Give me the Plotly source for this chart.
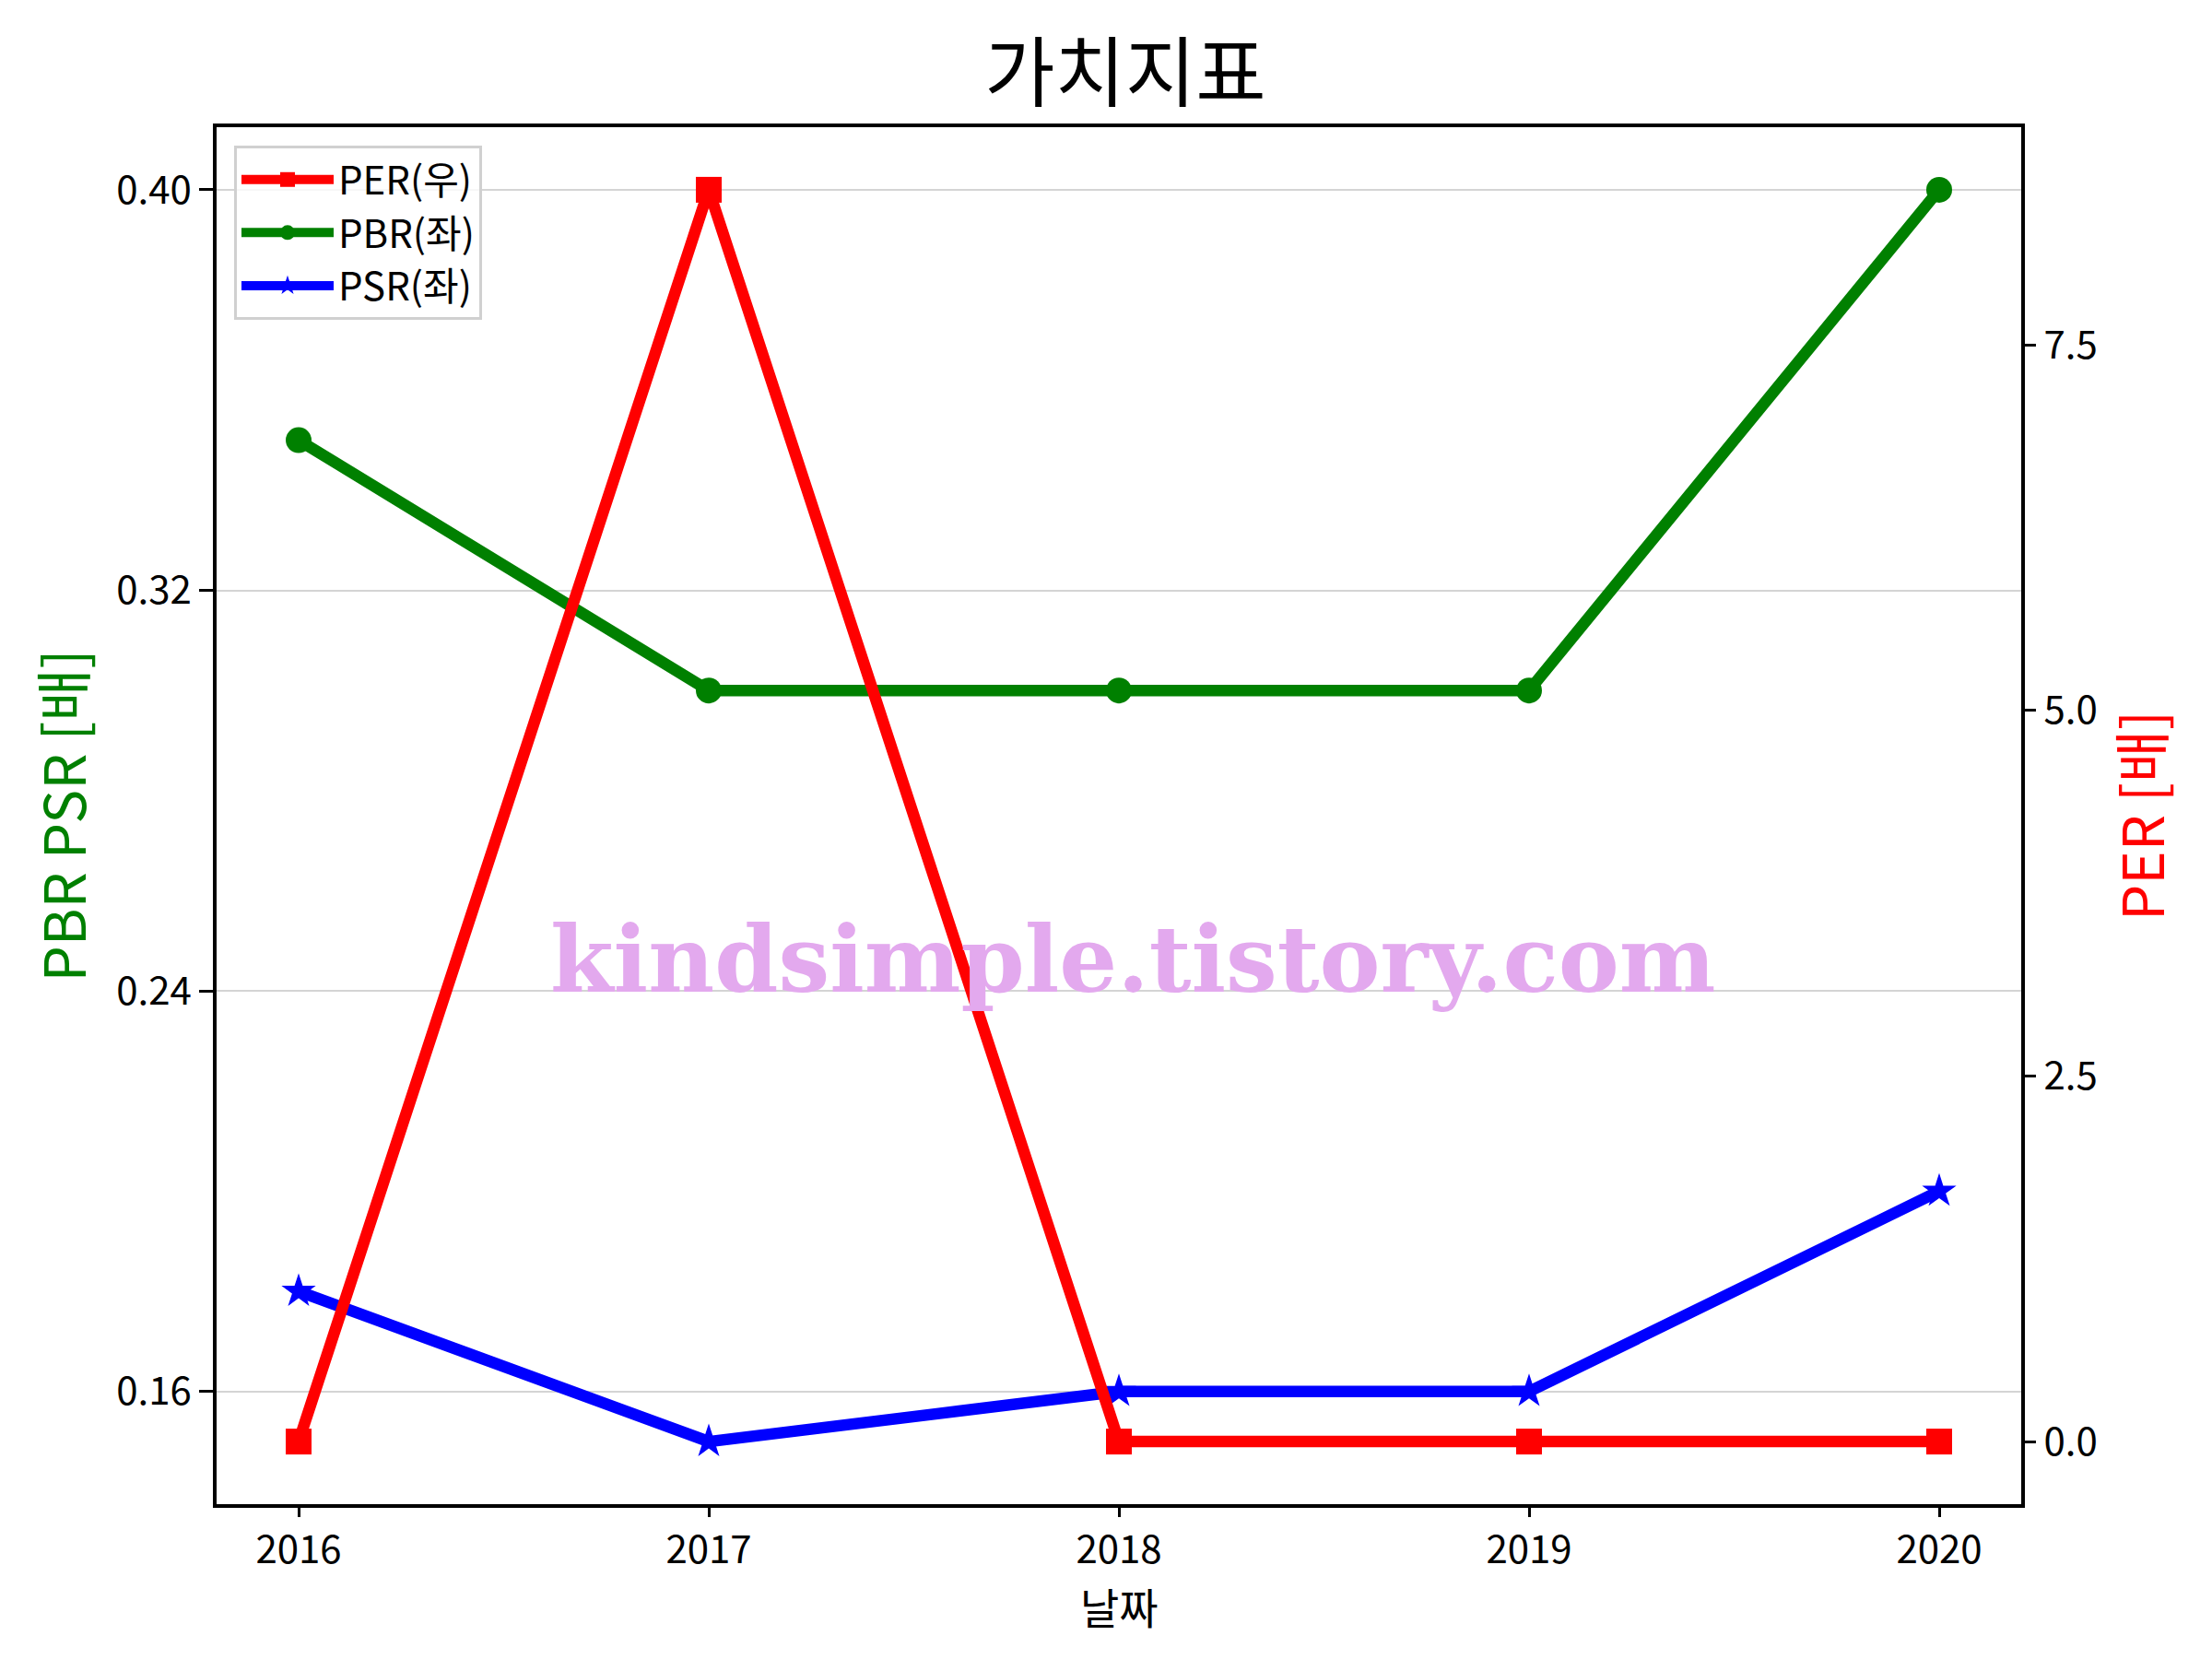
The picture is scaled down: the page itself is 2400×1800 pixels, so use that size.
import plotly.graph_objects as go

years = [2016, 2017, 2018, 2019, 2020]
per = [0.0, 8.56, 0.0, 0.0, 0.0]
pbr = [0.35, 0.30, 0.30, 0.30, 0.40]
psr = [0.18, 0.15, 0.16, 0.16, 0.20]

left_ticks = [0.16, 0.24, 0.32, 0.40]
right_ticks = [0.0, 2.5, 5.0, 7.5]

title_text = "가치지표"
xlabel = "날짜"
ylabel_left = "PBR PSR [배]"
ylabel_right = "PER [배]"
watermark = "kindsimple.tistory.com"

FONT = "Noto Sans CJK KR"
LW = 12.5

fig = go.Figure()
fig.add_trace(go.Scatter(x=years, y=pbr, name="PBR(좌)", mode="lines+markers",
                         line=dict(color="green", width=LW),
                         marker=dict(symbol="circle", size=28, color="green"),
                         legendrank=2))
fig.add_trace(go.Scatter(x=years, y=psr, name="PSR(좌)", mode="lines+markers",
                         line=dict(color="blue", width=LW),
                         marker=dict(symbol="star", size=28, color="blue"),
                         legendrank=3))
fig.add_trace(go.Scatter(x=years, y=per, name="PER(우)", mode="lines+markers",
                         line=dict(color="red", width=LW),
                         marker=dict(symbol="square", size=28, color="red"),
                         yaxis="y2", legendrank=1))

fig.add_annotation(text=watermark, xref="paper", yref="paper",
                   x=(1228 - 233) / 1959, y=(1632 - 1040) / 1496,
                   xanchor="center", yanchor="middle", showarrow=False,
                   font=dict(family="DejaVu Serif", size=99, color="#e3a9ee", weight="bold"))

# x-axis label placed just below the tick labels
fig.add_annotation(text=xlabel, xref="paper", yref="paper",
                   x=0.5, y=(1632 - 1742) / 1496, xanchor="center", yanchor="middle",
                   showarrow=False, font=dict(family=FONT, size=46, color="black"))

fig.update_layout(
    width=2400, height=1800,
    paper_bgcolor="white", plot_bgcolor="white",
    margin=dict(l=227, r=215, t=130, b=176),
    font=dict(family=FONT, size=42, color="black"),
    title=dict(text=title_text, x=0.5054, xanchor="center", y=1 - 72 / 1800, yanchor="middle",
               font=dict(family=FONT, size=83, color="black")),
    xaxis=dict(range=[2015.8, 2020.2], tickvals=years, ticktext=[str(y) for y in years],
               showline=True, linecolor="black", linewidth=3.5, mirror=True,
               ticks="outside", ticklen=10, tickwidth=3, tickcolor="black",
               showgrid=False, zeroline=False,
               tickfont=dict(size=42)),
    yaxis=dict(range=[0.1375, 0.4125], tickvals=left_ticks, tickformat=".2f",
               showline=True, linecolor="black", linewidth=3.5, mirror=True,
               ticks="outside", ticklen=15, tickwidth=3, tickcolor="black",
               showgrid=True, gridcolor="#d4d4d4", gridwidth=2, zeroline=False,
               title=dict(text=ylabel_left, font=dict(family=FONT, size=62, color="green"), standoff=14),
               tickfont=dict(size=42)),
    yaxis2=dict(range=[-0.428, 8.988], tickvals=right_ticks, tickformat=".1f",
                overlaying="y", side="right",
                showline=False, ticks="outside", ticklen=15, tickwidth=3, tickcolor="black",
                showgrid=False, zeroline=False,
                title=dict(text=ylabel_right, font=dict(family=FONT, size=62, color="red"), standoff=25),
                tickfont=dict(size=42)),
    legend=dict(x=(252 - 233) / 1959, y=(1632 - 156) / 1496, xanchor="left", yanchor="top",
                bgcolor="rgba(255,255,255,0.8)", bordercolor="#d0d0d0", borderwidth=3,
                font=dict(family=FONT, size=42), itemwidth=100, traceorder="normal"),
    showlegend=True,
)

fig.write_html("out.html")
